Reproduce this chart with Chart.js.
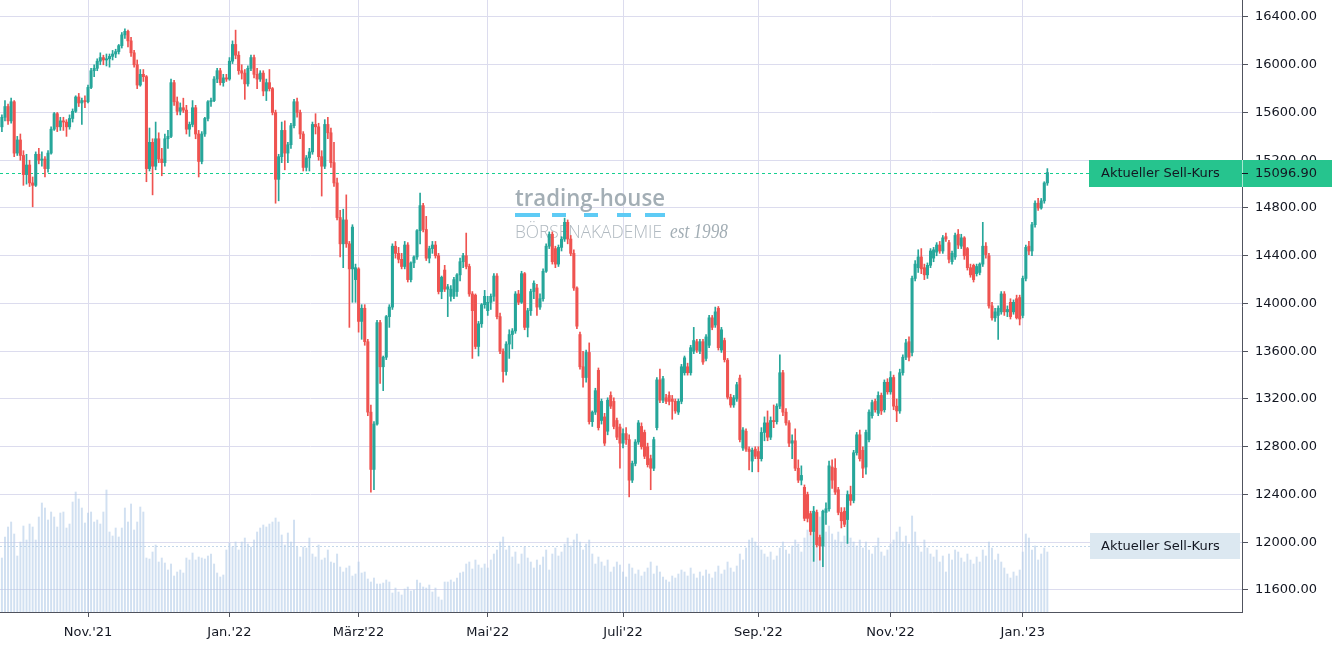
<!DOCTYPE html>
<html lang="de">
<head>
<meta charset="utf-8">
<title>DAX Tageskerzen</title>
<script src="https://cdn.jsdelivr.net/npm/chart.js@4.4.1/dist/chart.umd.min.js"></script>
<style>
  html, body { margin: 0; padding: 0; background: #fff; }
  #wrap { width: 1332px; height: 651px; position: relative; }
</style>
</head>
<body>
<div id="wrap"><canvas id="chart"></canvas></div>
<script>
// Tageskerzen Sep. 2021 - Jan. 2023 (Index 0 = erste Kerze)
const open = [
  15480,15560,15650,15530,15690,15260,15370,15240,15080,15160,
  15010,14990,15250,15200,15210,15130,15260,15460,15590,15480,
  15530,15520,15480,15550,15610,15730,15680,15700,15690,15810,
  15950,15970,16030,16060,16040,16050,16070,16090,16110,16160,
  16250,16280,16200,16100,16000,15830,15920,15900,15130,15350,
  15150,15380,15210,15180,15380,15400,15850,15690,15610,15640,
  15620,15460,15500,15640,15420,15190,15420,15550,15690,15700,
  15880,15950,15850,15890,15880,16030,16170,16080,15950,15930,
  15840,15970,16060,15920,15880,15930,15780,15850,15800,15600,
  15040,15230,15450,15260,15330,15490,15690,15600,15420,15140,
  15220,15270,15500,15480,15230,15150,15500,15430,15180,15010,
  14720,14500,14700,14500,14290,14200,14290,13850,13960,13680,
  13090,12610,12990,13840,13470,13550,13890,13970,14480,14420,
  14370,14310,14490,14200,14340,14390,14610,14820,14620,14380,
  14460,14490,14400,14100,14280,14120,14060,14060,14100,14240,
  14350,14400,14310,14080,14070,13640,13830,13990,13940,14010,
  14060,14230,13890,13600,13430,13660,13740,13770,14080,14010,
  14250,13800,13940,14100,14130,13970,14040,14270,14480,14580,
  14460,14330,14470,14540,14680,14540,14420,14130,13740,13470,
  13380,13590,13010,13090,13440,13020,13050,12930,13230,13180,
  13020,12965,12830,12910,12860,12520,12660,12840,12970,12920,
  12800,12700,12620,12960,13360,13190,13210,13230,13200,13180,
  13090,13180,13420,13470,13420,13600,13680,13600,13680,13540,
  13650,13880,13820,13960,13610,13690,13525,13215,13150,13200,
  13375,12790,12930,12780,12680,12780,12760,12700,12920,13000,
  12880,13020,13010,13140,13420,13090,13000,12830,12850,12620,
  12520,12460,12400,12240,12090,12250,12040,11970,12250,12280,
  12630,12620,12440,12250,12260,12190,12400,12350,12750,12900,
  12770,12630,12860,13060,13180,13080,13230,13110,13340,13260,
  13380,13140,13100,13420,13550,13680,13590,14210,14300,14390,
  14300,14240,14320,14380,14430,14490,14440,14560,14510,14350,
  14390,14580,14480,14550,14460,14300,14320,14250,14260,14330,
  14480,14400,13980,13880,13900,13930,14080,13930,14010,13930,
  14040,14050,13900,14210,14480,14440,14660,14840,14800,14860,
  15010
];
const high = [
  15580,15700,15670,15720,15700,15400,15420,15280,15250,15200,
  15060,15270,15300,15270,15230,15280,15480,15600,15600,15560,
  15560,15540,15580,15630,15740,15760,15720,15740,15830,15970,
  16000,16050,16100,16080,16090,16090,16120,16130,16170,16270,
  16300,16290,16230,16120,16040,15960,15960,15910,15470,15380,
  15520,15430,15300,15420,15450,15880,15870,15730,15680,15720,
  15660,15520,15700,15660,15450,15440,15560,15700,15720,15900,
  15970,15970,15920,15920,16060,16200,16290,16110,16000,15960,
  15990,16080,16080,15970,15950,15950,15880,15960,15810,15620,
  15250,15520,15530,15350,15510,15710,15720,15620,15440,15240,
  15300,15520,15590,15510,15280,15540,15560,15470,15350,15050,
  14780,14790,14910,14520,14660,14330,14300,13990,13990,13700,
  13150,13010,13860,13860,13560,13900,13990,14500,14520,14470,
  14420,14520,14510,14350,14400,14620,14925,14840,14730,14480,
  14520,14520,14420,14230,14320,14160,14150,14220,14250,14380,
  14420,14590,14330,14100,14080,13850,14000,14110,14060,14080,
  14250,14250,13920,13620,13680,13780,13790,14100,14110,14270,
  14260,13960,14120,14190,14160,14080,14290,14500,14600,14600,
  14480,14490,14560,14715,14700,14570,14450,14140,13760,13600,
  13610,13670,13100,13290,13460,13200,13080,13210,13260,13210,
  13040,12990,12950,12960,12900,12680,12860,13020,13000,12940,
  12830,12730,12880,13380,13450,13390,13240,13260,13230,13200,
  13200,13490,13560,13500,13650,13800,13700,13700,13700,13740,
  13900,13900,13970,13975,13800,13710,13540,13240,13230,13340,
  13400,12960,12950,12800,12790,12800,12800,12960,13050,13100,
  13050,13150,13160,13570,13440,13120,13020,12900,12950,12690,
  12640,12480,12420,12260,12300,12270,12060,12270,12330,12680,
  12690,12700,12460,12290,12290,12430,12470,12770,12920,12940,
  12800,12940,13110,13190,13200,13260,13250,13360,13370,13430,
  13400,13200,13450,13570,13700,13720,14230,14360,14450,14460,
  14330,14340,14460,14470,14510,14520,14570,14590,14530,14440,
  14590,14620,14580,14560,14470,14330,14330,14330,14340,14680,
  14510,14420,14010,13960,13980,14100,14100,13980,14040,14030,
  14070,14070,14230,14490,14520,14680,14860,14880,14880,15020,
  15130
];
const low = [
  15440,15530,15500,15510,15230,15240,15200,14990,15000,14980,
  14810,14980,15170,15150,15060,15100,15250,15450,15440,15450,
  15450,15400,15460,15520,15600,15650,15500,15640,15680,15800,
  15900,15950,16000,16000,15990,15980,16040,16060,16090,16140,
  16220,16150,16070,15980,15800,15820,15860,15020,15110,14910,
  15120,15180,15070,15150,15300,15390,15660,15580,15580,15600,
  15420,15400,15480,15380,15060,15170,15400,15530,15650,15690,
  15850,15830,15820,15860,15870,16010,16050,15920,15880,15710,
  15820,15950,15890,15800,15860,15740,15700,15780,15580,14840,
  14860,15180,15120,15180,15300,15470,15560,15380,15110,15110,
  15110,15250,15420,15200,14900,15130,15380,15140,14980,14700,
  14390,14300,14470,13800,14010,14010,13760,13700,13650,13060,
  12420,12440,12980,13330,13270,13530,13800,13950,14380,14340,
  14290,14290,14180,14180,14300,14370,14500,14600,14360,14340,
  14420,14380,14080,14040,14100,13890,14020,14040,14060,14190,
  14300,14290,14060,13540,13620,13560,13800,13960,13900,13950,
  14020,13870,13580,13340,13400,13540,13620,13750,13990,14000,
  13780,13720,13900,14040,13900,13950,14020,14260,14460,14330,
  14300,14310,14440,14520,14500,14400,14110,13790,13450,13300,
  13340,12990,12970,13070,12940,12990,12810,12900,13120,12950,
  12860,12620,12790,12820,12380,12500,12640,12820,12780,12700,
  12630,12440,12600,12940,13170,13170,13160,13150,13030,13080,
  13070,13160,13400,13400,13400,13580,13590,13580,13490,13520,
  13630,13780,13800,13610,13590,13510,13200,13130,13130,13180,
  12840,12770,12760,12605,12590,12700,12590,12680,12850,12850,
  12860,12960,12990,13120,13060,12980,12800,12700,12600,12500,
  12480,12180,12170,12060,11840,11960,11850,11795,12150,12260,
  12450,12400,12230,12120,12130,11990,12310,12330,12730,12680,
  12540,12570,12840,13040,13090,13060,13070,13090,13240,13240,
  13110,13010,13080,13400,13530,13520,13560,14190,14260,14250,
  14200,14210,14300,14350,14400,14420,14420,14520,14340,14330,
  14370,14460,14460,14370,14280,14220,14180,14230,14240,14310,
  14380,13960,13860,13850,13700,13910,13900,13890,13870,13910,
  13870,13820,13880,14190,14410,14400,14640,14780,14790,14840,
  14990
];
const close = [
  15560,15650,15530,15690,15260,15370,15240,15080,15160,15010,
  14990,15250,15200,15210,15130,15260,15460,15590,15480,15530,
  15520,15480,15550,15610,15730,15680,15700,15690,15810,15950,
  15970,16030,16060,16040,16050,16070,16090,16110,16160,16250,
  16280,16200,16100,16000,15830,15920,15900,15130,15350,15150,
  15380,15210,15180,15380,15400,15850,15690,15610,15640,15620,
  15460,15500,15640,15420,15190,15420,15550,15690,15700,15880,
  15950,15850,15890,15880,16030,16170,16080,15950,15930,15840,
  15970,16060,15920,15880,15930,15780,15850,15800,15600,15040,
  15230,15450,15260,15330,15490,15690,15600,15420,15140,15220,
  15270,15500,15480,15230,15150,15500,15430,15180,15010,14720,
  14500,14700,14500,14290,14640,14300,13850,13960,13680,13090,
  12610,12990,13840,13470,13550,13890,13970,14480,14420,14370,
  14310,14490,14200,14340,14390,14610,14820,14620,14380,14460,
  14490,14400,14100,14220,14120,14140,14120,14200,14240,14350,
  14400,14310,14080,13940,13640,13830,13990,14060,14010,14060,
  14230,13890,13600,13430,13660,13740,13770,14080,14010,14250,
  13800,13940,14100,14170,13970,14040,14270,14480,14580,14350,
  14330,14470,14540,14680,14540,14420,14130,13810,13470,13380,
  13590,13010,13090,13270,12960,13180,12830,13190,13140,12970,
  12880,12830,12910,12860,12520,12660,12840,13000,12800,12720,
  12650,12620,12860,13360,13190,13370,13180,13180,13180,13100,
  13180,13470,13545,13420,13630,13690,13610,13680,13510,13720,
  13880,13800,13930,13630,13780,13530,13215,13150,13210,13320,
  12860,12940,12780,12760,12770,12720,12700,12920,13000,12880,
  13020,13010,13140,13420,13090,13000,12830,12850,12620,12520,
  12560,12200,12200,12090,12260,11980,11970,12260,12280,12640,
  12520,12420,12250,12180,12150,12400,12350,12750,12900,12700,
  12620,12920,13090,13170,13110,13230,13100,13340,13260,13380,
  13140,13100,13420,13550,13670,13550,14210,14330,14390,14290,
  14240,14320,14440,14450,14490,14440,14550,14540,14370,14420,
  14570,14490,14550,14400,14300,14240,14200,14310,14330,14480,
  14410,13980,13880,13930,13960,14080,13930,13950,13890,14010,
  13880,13870,14210,14470,14440,14660,14840,14800,14860,15010,
  15097
];
const volume = [
  54,75,85,90,78,56,70,86,72,88,
  85,72,95,109,104,92,100,95,85,99,
  100,84,88,110,120,113,104,89,99,100,
  90,92,88,100,122,80,76,84,75,84,
  104,90,108,82,90,105,100,54,53,60,
  67,50,54,49,42,48,36,40,42,39,
  54,52,59,52,55,54,53,56,58,48,
  39,35,37,62,69,65,70,62,70,74,
  68,65,72,80,84,87,85,88,90,94,
  90,77,67,79,70,92,65,55,65,64,
  74,58,55,67,52,54,62,50,49,58,
  45,40,44,46,36,38,50,39,40,33,
  30,34,28,28,29,32,30,19,24,20,
  17,23,25,21,22,32,29,25,24,27,
  20,24,15,12,30,30,32,30,34,39,
  40,48,50,43,52,47,44,48,44,52,
  58,62,70,75,62,66,55,60,48,58,
  65,54,50,44,52,47,55,62,42,58,
  64,56,60,68,74,66,72,78,70,62,
  68,72,58,48,55,50,46,52,40,45,
  50,47,40,35,48,44,38,42,36,40,
  44,50,38,46,40,35,32,30,36,34,
  38,42,40,36,44,38,34,40,36,42,
  38,34,40,46,38,42,50,44,40,46,
  58,52,64,72,74,70,66,62,58,55,
  60,52,56,64,70,62,58,66,72,68,
  60,74,82,76,90,84,95,88,80,86,
  78,72,80,70,76,92,74,70,66,72,
  64,70,62,58,66,74,60,56,62,68,
  72,80,85,70,76,68,96,80,66,60,
  72,64,58,55,62,50,56,40,58,52,
  62,60,54,50,58,52,48,55,50,62,
  56,70,64,52,58,50,44,38,34,40,
  36,42,60,78,74,62,66,52,58,64,
  60
];

// Monatsanfaenge auf der Zeitachse
const monthIndex = [28, 74, 116, 158, 202, 246, 289, 332];
const monthLabels = ["Nov.'21", "Jan.'22", "März'22", "Mai'22", "Juli'22", "Sep.'22", "Nov.'22", "Jan.'23"];
const priceTicks = [11600, 12000, 12400, 12800, 13200, 13600, 14000, 14400, 14800, 15200, 15600, 16000, 16400];
const currentPrice = 15096.9;
const volumeMarker = 66;

const UP = '#26a69a';
const DOWN = '#ef5350';
const GRID = '#dcdcee';
const TEXT = '#131722';

Chart.defaults.font.family = '"DejaVu Sans", sans-serif';
Chart.defaults.font.size = 13;
Chart.defaults.color = TEXT;

const candleColors = close.map((c, i) => c >= open[i] ? UP : DOWN);

const overlay = {
  id: 'overlay',
  beforeDatasetsDraw(chart) {
    const ctx = chart.ctx;
    const area = chart.chartArea;
    ctx.save();
    // Wasserzeichen
    ctx.fillStyle = '#a3aeb5';
    ctx.font = '600 23px "Open Sans"';
    ctx.textBaseline = 'alphabetic';
    ctx.fillText('trading-house', 515, 206, 150);
    ctx.fillStyle = '#5ecbf5';
    [[515, 540], [552, 566], [584, 598], [617, 631], [645, 665]].forEach(d => {
      ctx.fillRect(d[0], 213, d[1] - d[0], 4);
    });
    ctx.fillStyle = '#b0b9c0';
    ctx.font = '300 19px "Open Sans"';
    ctx.fillText('BÖRSENAKADEMIE', 515, 238, 147);
    ctx.fillStyle = '#a3aeb5';
    ctx.font = 'italic 20px "Liberation Serif"';
    ctx.fillText('est 1998', 670, 238, 58);

    // gestrichelte Linie aktueller Kurs (als kleine Rechtecke)
    const py = Math.round(chart.scales.y.getPixelForValue(currentPrice));
    const lineEnd = area.right - 153;
    ctx.fillStyle = '#16cf90';
    for (let x = area.left; x < lineEnd; x += 6) {
      ctx.fillRect(x, py, Math.min(3, lineEnd - x), 1);
    }

    const vy = Math.round(chart.scales.yv.getPixelForValue(volumeMarker));
    ctx.fillStyle = '#c4d8ea';
    for (let x = area.left; x < lineEnd; x += 4) {
      ctx.fillRect(x, vy, 2, 1);
    }
    ctx.restore();
  },
  afterDraw(chart) {
    const ctx = chart.ctx;
    const area = chart.chartArea;
    const py = Math.round(chart.scales.y.getPixelForValue(currentPrice));
    ctx.save();
    ctx.fillStyle = '#26c48e';
    ctx.fillRect(area.right - 153, py - 13, chart.width - area.right + 153, 27);
    ctx.fillStyle = 'rgba(255,255,255,0.6)';
    ctx.fillRect(area.right, py - 13, 1, 27);
    ctx.fillStyle = TEXT;
    ctx.fillRect(area.right, py, 6, 1);
    ctx.font = '13px "DejaVu Sans"';
    ctx.textBaseline = 'middle';
    ctx.fillText('Aktueller Sell-Kurs', area.right - 141, py + 1);
    ctx.fillText(currentPrice.toFixed(2), area.right + 13, py + 1);

    const vy = Math.round(chart.scales.yv.getPixelForValue(volumeMarker));
    ctx.fillStyle = '#dce8f1';
    ctx.fillRect(area.right - 152, vy - 13, 150, 26);
    ctx.fillStyle = TEXT;
    ctx.fillText('Aktueller Sell-Kurs', area.right - 141, vy + 1);
    ctx.restore();
  }
};

new Chart(document.getElementById('chart'), {
  type: 'bar',
  data: {
    datasets: [
      {
        label: 'Kerze',
        data: close.map((c, i) => ({ x: i, y: [open[i], c] })),
        backgroundColor: candleColors,
        barThickness: 2.4,
        minBarLength: 1,
        grouped: false,
        order: 1,
        yAxisID: 'y'
      },
      {
        label: 'Docht',
        data: close.map((c, i) => ({ x: i, y: [low[i], high[i]] })),
        backgroundColor: candleColors,
        barThickness: 1,
        grouped: false,
        order: 2,
        yAxisID: 'y'
      },
      {
        label: 'Volumen',
        data: volume.map((v, i) => ({ x: i, y: v })),
        backgroundColor: 'rgba(178, 204, 232, 0.6)',
        barThickness: 1.3,
        grouped: false,
        order: 3,
        yAxisID: 'yv'
      }
    ]
  },
  options: {
    responsive: true,
    maintainAspectRatio: false,
    animation: false,
    events: [],
    layout: { padding: 0 },
    plugins: {
      legend: { display: false },
      tooltip: { enabled: false }
    },
    scales: {
      x: {
        type: 'linear',
        min: -0.62,
        max: 403.3,
        offset: false,
        afterBuildTicks: s => { s.ticks = monthIndex.map(v => ({ value: v })); },
        afterFit: s => { s.height = 39; s.paddingLeft = 0; s.paddingRight = 0; },
        ticks: {
          autoSkip: false,
          maxRotation: 0,
          padding: 8,
          color: TEXT,
          callback: v => monthLabels[monthIndex.indexOf(v)]
        },
        grid: { offset: false, color: GRID, lineWidth: 1, tickLength: 5, tickColor: '#50535e' },
        border: { display: true, color: '#50535e' }
      },
      y: {
        position: 'right',
        min: 11415.7,
        max: 16542.4,
        afterBuildTicks: s => { s.ticks = priceTicks.map(v => ({ value: v })); },
        afterFit: s => { s.width = 90; s.paddingTop = 0; s.paddingBottom = 0; },
        ticks: {
          padding: 7,
          color: TEXT,
          callback: v => Number(v).toFixed(2)
        },
        grid: { color: GRID, lineWidth: 1, tickLength: 6, tickColor: '#50535e' },
        border: { display: true, color: '#50535e' }
      },
      yv: {
        display: false,
        min: 0,
        max: 612
      }
    }
  },
  plugins: [overlay]
});
</script>
</body>
</html>
